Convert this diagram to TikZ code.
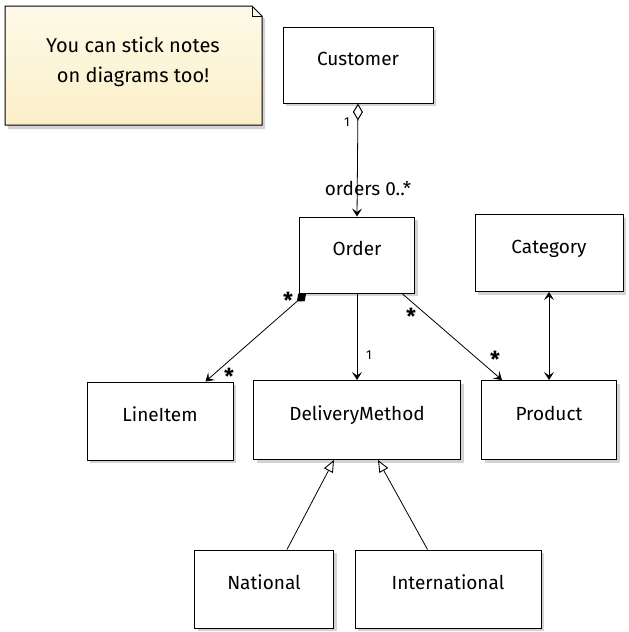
\documentclass[tikz,border=0pt]{standalone}
\usepackage{fontspec}
\setmainfont{Fira Sans}
\usetikzlibrary{arrows.meta,shadows,calc}
\definecolor{notetop}{HTML}{FEFAE8}
\definecolor{notebot}{HTML}{FBEFC8}
\tikzset{
  box/.style={draw=black, line width=1pt, fill=white, font=\fontsize{19}{22}\selectfont,
    text height=8pt, text depth=8pt,
    drop shadow={shadow xshift=3pt, shadow yshift=-3pt, opacity=0.35, fill=gray}},
  conn/.style={line width=0.8pt, draw=black},
  tip/.style={-{Stealth[length=8pt,width=10pt,inset=3.5pt]}},
  mult/.style={font=\fontsize{13}{15}\selectfont, inner sep=0pt},
  star/.style={font=\bfseries\fontsize{22}{22}\selectfont, inner sep=0pt},
}
\begin{document}
\begin{tikzpicture}[x=1pt,y=-1pt]
\useasboundingbox (0,0) rectangle (629,632);
% note
\fill[gray, opacity=0.35] (8,9) -- (255,9) -- (265,19) -- (265,129) -- (8,129) -- cycle;
\shade[top color=notetop, bottom color=notebot, draw=black, line width=1pt]
  (5,6) -- (252,6) -- (262,16) -- (262,125) -- (5,125) -- cycle;
\draw[line width=0.8pt] (252,6) -- (252,16) -- (262,16);
\node[align=center, font=\fontsize{20}{30}\selectfont] (note) at (133,62) {You can stick notes\\on diagrams too!};
% classes
\node[box, minimum width=150, minimum height=76] (cust) at (358,65) {Customer};
\node[box, minimum width=115, minimum height=76] (ord) at (357,255) {Order};
\node[box, minimum width=148, minimum height=77] (cat) at (549,253) {Category};
\node[box, minimum width=146, minimum height=78] (li) at (160,421) {LineItem};
\node[box, minimum width=207, minimum height=79] (dm) at (357,420) {DeliveryMethod};
\node[box, minimum width=135, minimum height=79] (prod) at (549,420) {Product};
\node[box, minimum width=139, minimum height=78] (nat) at (264,589) {National};
\node[box, minimum width=186, minimum height=78] (intl) at (448,589) {International};
% connectors
\draw[conn, {Diamond[open,length=17pt,width=10pt,line width=1pt]}-{Stealth[length=8pt,width=10pt,inset=3.5pt]}] (cust.south) -- (ord.north);
\node[mult] (m1) at (347,122) {1};
\node[font=\fontsize{19}{22}\selectfont, inner sep=0pt] (ordlbl) at (368,188) {orders 0..*};
\draw[conn, {Diamond[length=12pt,width=10pt]}-{Stealth[length=8pt,width=10pt,inset=3.5pt]}] ($(ord.south west)+(7,0)$) -- ($(li.north east)+(-28,0)$);
\node[star] (s1) at (288,300) {*};
\node[star] (s2) at (229,376) {*};
\draw[conn, tip] (ord.south) -- (dm.north);
\node[mult] (m2) at (369,355) {1};
\draw[conn, tip] ($(ord.south east)+(-13,0)$) -- ($(prod.north west)+(21,0)$);
\node[star] (s3) at (411,316) {*};
\node[star] (s4) at (495,359) {*};
\draw[conn, {Stealth[length=8pt,width=10pt,inset=3.5pt]}-{Stealth[length=8pt,width=10pt,inset=3.5pt]}] (cat.south) -- (prod.north);
\draw[conn, -{Triangle[open,length=12pt,width=10pt,line width=0.9pt]}] ($(nat.north east)+(-47,0)$) -- ($(dm.south west)+(81,0)$);
\draw[conn, -{Triangle[open,length=12pt,width=10pt,line width=0.9pt]}] ($(intl.north west)+(73,0)$) -- ($(dm.south east)+(-83,0)$);
\end{tikzpicture}
\end{document}
